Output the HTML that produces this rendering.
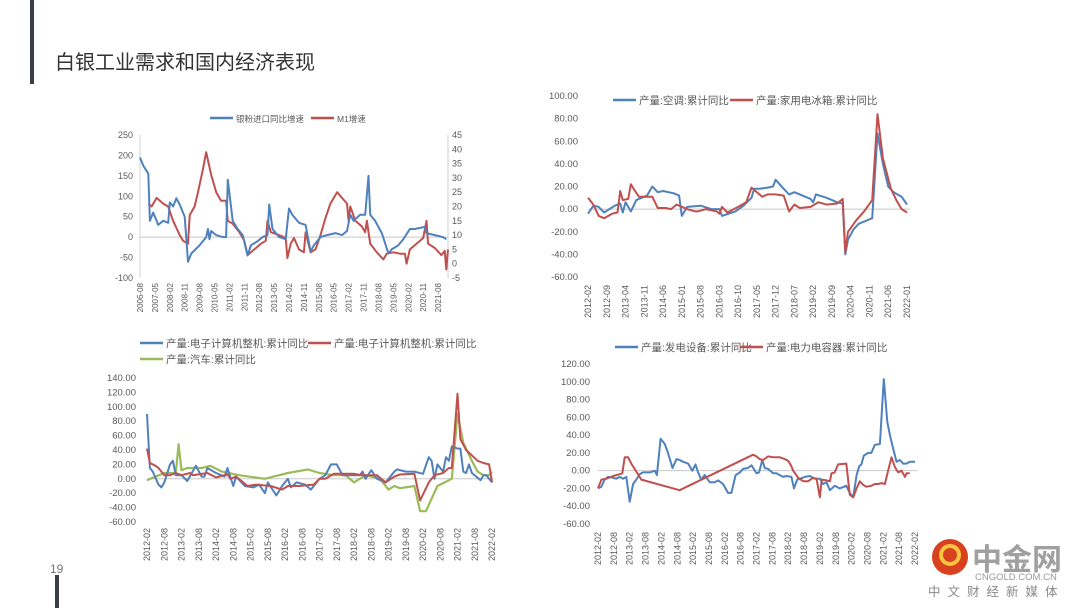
<!DOCTYPE html>
<html><head><meta charset="utf-8"><style>
html,body{margin:0;padding:0;background:#fff;}
svg{display:block;font-family:"Liberation Sans","Noto Sans CJK SC",sans-serif;}
</style></head><body>
<svg id="s" width="1080" height="608" viewBox="0 0 1080 608">
<rect x="0" y="0" width="1080" height="608" fill="#fff"/>
<rect x="30" y="0" width="4" height="84" fill="#3a3f4b"/>
<rect x="55" y="575" width="4" height="33" fill="#3a3f4b"/>
<text x="55" y="69" font-size="20" fill="#333">白银工业需求和国内经济表现</text>
<text x="50" y="573" font-size="12" fill="#777">19</text>
<g>
<circle cx="950" cy="557" r="18" fill="#d9411e"/>
<circle cx="950" cy="555" r="9" fill="none" stroke="#f5c542" stroke-width="4"/>
<text x="972" y="570" font-size="30" font-weight="bold" fill="#a0a0a0">中金网</text>
<text x="975" y="580" font-size="9.5" fill="#999">CNGOLD.COM.CN</text>
<text x="928" y="596" font-size="12.5" fill="#888" letter-spacing="7">中文财经新媒体</text>
</g>
<g id="c1"></g>
<g id="c2"></g>
<g id="c3"></g>
<g id="c4"></g>
</svg>
<script>
// ---------- Chart 1 data ----------
const c1Ticks = ['2006-08','2007-05','2008-02','2008-11','2009-08','2010-05','2011-02','2011-11','2012-08','2013-05','2014-02','2014-11','2015-08','2016-05','2017-02','2017-11','2018-08','2019-05','2020-02','2020-11','2021-08'];
const c1LeftTicks = [250,200,150,100,50,0,-50,-100];
const c1RightTicks = [45,40,35,30,25,20,15,10,5,0,-5];
const c1Silver = [['2006-08',195],['2006-10',175],['2007-01',155],['2007-02',40],['2007-04',60],['2007-06',40],['2007-07',30],['2007-10',40],['2008-01',35],['2008-02',85],['2008-04',75],['2008-06',95],['2008-08',80],['2008-11',50],['2009-01',-60],['2009-03',-40],['2009-08',-20],['2009-12',0],['2010-01',20],['2010-02',-5],['2010-03',15],['2010-06',5],['2010-10',0],['2010-12',0],['2011-01',140],['2011-04',40],['2011-07',20],['2011-10',5],['2012-01',-45],['2012-03',-20],['2012-07',-10],['2012-10',0],['2013-01',5],['2013-02',80],['2013-04',20],['2013-08',0],['2013-12',-5],['2014-02',70],['2014-04',55],['2014-08',35],['2014-12',30],['2015-03',-35],['2015-05',-20],['2015-09',0],['2016-01',5],['2016-06',10],['2016-10',5],['2017-01',15],['2017-03',55],['2017-05',40],['2017-09',55],['2017-12',55],['2018-02',150],['2018-03',55],['2018-06',40],['2018-10',10],['2019-02',-40],['2019-04',-30],['2019-08',-20],['2019-11',-5],['2020-03',20],['2020-06',20],['2020-12',25],['2021-01',10],['2021-06',5],['2021-11',0],['2022-01',-5]];
const c1M1 = [['2007-01',21],['2007-03',20],['2007-06',23],['2007-10',21],['2008-01',20],['2008-04',15],['2008-08',10],['2008-10',8],['2009-01',7],['2009-02',17],['2009-05',20],['2009-07',25],['2009-10',33],['2009-12',39],['2010-03',31],['2010-06',25],['2010-09',22],['2010-12',22],['2011-01',15],['2011-04',14],['2011-08',11],['2011-11',8],['2012-01',3],['2012-05',5],['2012-09',7],['2012-12',8],['2013-01',15],['2013-03',11],['2013-08',10],['2013-12',9],['2014-01',2],['2014-03',7],['2014-05',9],['2014-08',5],['2014-11',4],['2014-12',11],['2015-03',4],['2015-06',5],['2015-09',10],['2015-12',16],['2016-03',21],['2016-07',25],['2016-10',23],['2017-01',21],['2017-02',15],['2017-03',20],['2017-06',15],['2017-10',13],['2017-12',11],['2018-01',15],['2018-03',7],['2018-07',4],['2018-11',1.5],['2019-01',3.5],['2019-05',4],['2019-09',3.5],['2019-12',3.5],['2020-01',0],['2020-03',5],['2020-07',7],['2020-11',9],['2021-01',15],['2021-02',7],['2021-06',5.5],['2021-10',3],['2021-12',4.5],['2022-01',-2],['2022-02',5]];
// ---------- Chart 2 data ----------
const c2Ticks = ['2012-02','2012-09','2013-04','2013-11','2014-06','2015-01','2015-08','2016-03','2016-10','2017-05','2017-12','2018-07','2019-02','2019-09','2020-04','2020-11','2021-06','2022-01'];
const c2YTicks = [100,80,60,40,20,0,-20,-40,-60];
const c2AC = [['2012-02',-4],['2012-04',3],['2012-06',2],['2012-08',-3],['2012-12',3],['2013-02',5],['2013-03',-3],['2013-04',6],['2013-06',-2],['2013-08',8],['2013-10',10],['2013-12',12],['2014-02',20],['2014-04',15],['2014-06',16],['2014-10',14],['2014-12',12],['2015-01',-6],['2015-03',2],['2015-08',3],['2015-12',0],['2016-03',0],['2016-04',-6],['2016-09',-2],['2016-12',3],['2017-03',10],['2017-04',18],['2017-06',18],['2017-09',19],['2017-11',20],['2017-12',26],['2018-03',18],['2018-05',13],['2018-07',15],['2018-10',12],['2019-01',9],['2019-02',6],['2019-03',13],['2019-07',10],['2019-11',6],['2020-01',5],['2020-02',-40],['2020-03',-27],['2020-05',-18],['2020-07',-13],['2020-10',-10],['2020-12',-8],['2021-02',67],['2021-04',40],['2021-06',20],['2021-08',15],['2021-11',11],['2022-01',4]];
const c2Fridge = [['2012-02',10],['2012-04',4],['2012-06',-6],['2012-08',-8],['2012-11',-4],['2013-01',-3],['2013-02',16],['2013-03',8],['2013-05',9],['2013-06',22],['2013-07',18],['2013-09',11],['2013-12',11],['2014-02',11],['2014-04',1],['2014-07',1],['2014-09',0],['2014-11',4],['2015-03',0],['2015-06',-2],['2015-07',-2],['2015-10',0],['2016-02',-2],['2016-03',-4],['2016-04',2],['2016-06',-3],['2016-10',2],['2017-01',6],['2017-03',19],['2017-07',11],['2017-09',13],['2017-12',13],['2018-03',12],['2018-05',-2],['2018-07',4],['2018-09',1],['2019-01',2],['2019-04',6],['2019-07',4],['2019-11',5],['2020-01',9],['2020-02',-38],['2020-03',-20],['2020-06',-10],['2020-09',-2],['2020-12',8],['2021-02',84],['2021-04',45],['2021-07',18],['2021-09',8],['2021-11',0],['2022-01',-3]];
// ---------- Chart 3 data (month offsets from 2012-02) ----------
const c3Ticks = ['2012-02','2012-08','2013-02','2013-08','2014-02','2014-08','2015-02','2015-08','2016-02','2016-08','2017-02','2017-08','2018-02','2018-08','2019-02','2019-08','2020-02','2020-08','2021-02','2021-08','2022-02'];
const c3YTicks = [140,120,100,80,60,40,20,0,-20,-40,-60];
const c3Computer = [[0,90],[1,15],[2,10],[4,-8],[5,-12],[6,-5],[8,20],[9,25],[10,5],[12,5],[14,-3],[17,18],[19,3],[20,3],[21,15],[24,8],[27,3],[28,15],[30,-10],[31,3],[34,-10],[37,-12],[39,-8],[41,-20],[42,-5],[45,-23],[47,-10],[49,0],[50,-12],[52,-5],[55,-8],[57,-15],[60,0],[62,5],[64,20],[66,20],[68,5],[72,5],[74,5],[75,10],[76,0],[78,12],[80,0],[83,-5],[86,10],[87,13],[90,10],[93,10],[96,7],[98,30],[99,25],[100,0],[101,20],[103,10],[104,30],[105,25],[106,45],[108,42],[109,42],[110,10],[111,8],[112,20],[113,8],[116,-2],[117,5],[118,5],[120,-5]];
const c3Computer2 = [[0,42],[1,22],[3,18],[4,15],[6,5],[8,5],[10,8],[12,5],[15,8],[16,5],[21,8],[24,2],[26,4],[28,6],[29,0],[31,3],[35,-10],[38,-8],[43,-10],[47,-15],[49,-10],[53,-10],[58,-8],[60,0],[62,0],[65,7],[72,7],[75,5],[80,5],[83,-5],[86,3],[88,6],[93,7],[95,-30],[98,-5],[100,5],[103,8],[105,15],[106,15],[108,118],[109,55],[111,40],[115,25],[117,22],[119,20],[120,-5]];
const c3Auto = [[0,-2],[6,8],[10,8],[11,48],[12,12],[14,15],[19,15],[22,18],[26,10],[32,5],[41,0],[44,3],[49,8],[56,13],[60,8],[65,5],[69,5],[72,-5],[76,5],[81,0],[84,-15],[86,-10],[88,-13],[93,-10],[95,-45],[97,-45],[101,-10],[106,0],[108,90],[110,50],[113,25],[115,10],[117,5],[119,5],[120,10]];
// ---------- Chart 4 data (month offsets from 2012-02) ----------
const c4Ticks = c3Ticks;
const c4YTicks = [120,100,80,60,40,20,0,-20,-40,-60];
const c4Gen = [[0,-20],[1.3,-18],[2.5,-10],[3.8,-7],[5.7,-8],[6.9,-9],[8.2,-7],[9.5,-9],[10.7,-7],[12,-35],[13.3,-15],[14.5,-10],[15.8,-4],[17,-2],[19.6,-2],[21.5,0],[22.3,-5],[23.7,36],[25.3,30],[26.5,20],[28.2,3],[29.7,13],[30.9,12],[32.2,10],[34.1,8],[35.7,0],[36.9,7],[37.9,-2],[39.1,-10],[40.4,-5],[42.3,-13],[44.2,-13],[45.5,-11],[47.3,-15],[49.2,-25],[50.5,-25],[52.1,-5],[53.7,-2],[54.9,2],[56.8,3],[58.1,6],[60,-3],[61,-2],[62.2,12],[63.1,3],[64.4,2],[66.3,-3],[67.5,-3],[68.8,-5],[70.1,-7],[71.3,-6],[73.2,-7],[74.2,-20],[75.4,-10],[76.6,-9],[78.3,-7],[80.2,-6],[82.1,-9],[84,-9],[85.2,-15],[86.5,-13],[87.8,-22],[89.6,-17],[91.5,-20],[94,-17],[95.3,-25],[96.6,-30],[97.9,-5],[98.9,5],[99.7,7],[100.6,17],[102.3,20],[103.5,20],[104.8,29],[106.7,30],[108.2,103],[109.5,55],[110.5,40],[111.7,25],[113,10],[114.3,12],[115.5,8],[116.8,8],[118,10],[120,10]];
const c4Cap = [[0,-20],[1.3,-10],[3.2,-9],[5.7,-6],[8.2,-4],[9.2,-3],[10.1,15],[11.4,15],[12.6,8],[16.4,-10],[30.9,-22],[58.7,18],[60,16],[61.2,13],[62.5,12],[64.4,16],[66.3,15],[68.8,15],[70.7,13],[72,11],[73.2,5],[73.9,0],[75.8,-8],[77.7,-12],[79.5,-12],[81.4,-8],[82.7,-9],[84,-30],[84.7,-10],[86.5,-11],[87.8,-12],[88.4,-3],[89.6,-2],[90.9,7],[94,8],[95.3,-27],[96.6,-30],[97.9,-20],[99.1,-12],[100.4,-16],[101.6,-18],[103.5,-17],[104.8,-15],[106.1,-15],[107.3,-14],[108.6,-15],[109.8,0],[111.1,15],[112.4,4],[113.6,-2],[114.9,0],[116.2,-7],[116.8,-3],[118,-3]];

const NS='http://www.w3.org/2000/svg';
const BLUE='#4f81bd', RED='#c0504d', GREEN='#9bbb59';
function lin(d0,d1,r0,r1){return v=>r0+(v-d0)*(r1-r0)/(d1-d0);}
function mo(d,start){const a=d.split('-'),b=start.split('-');return (a[0]-b[0])*12+(a[1]-b[1]);}
function el(parent,tag,attrs,text){const e=document.createElementNS(NS,tag);for(const k in attrs)e.setAttribute(k,attrs[k]);if(text!==undefined)e.textContent=text;parent.appendChild(e);return e;}
function series(g,data,xf,yf,color,w,name){
  const pts=data.map(p=>xf(p[0]).toFixed(1)+','+yf(p[1]).toFixed(1)).join(' ');
  const e=el(g,'polyline',{points:pts,fill:'none',stroke:color,'stroke-width':w,'stroke-linejoin':'round'});
  
  
}
function yLabels(g,ticks,yf,x,anchor,fmt,fs,name){
  ticks.forEach(t=>{const e=el(g,'text',{x:x,y:yf(t)+3,'font-size':fs,fill:'#595959','text-anchor':anchor},fmt(t));
    
    });
}
function xLabels(g,ticks,xf,top,fs,name){
  ticks.forEach(t=>{const x=xf(t)+3;const e=el(g,'text',{x:0,y:0,'font-size':fs,fill:'#595959','text-anchor':'end',transform:'translate('+x+','+top+') rotate(-90)'},t);
    
    });
}
function legend(g,x,y,color,label,fs,name){
  const l=el(g,'line',{x1:x,y1:y,x2:x+23,y2:y,stroke:color,'stroke-width':2.5});
  
  
  const t=el(g,'text',{x:x+26,y:y+4,'font-size':fs,fill:'#595959'},label);
  
  
}
function hline(g,x1,x2,y,name){const e=el(g,'line',{x1:x1,x2:x2,y1:y,y2:y,stroke:'#c8c8c8','stroke-width':1});
  
  }
function vline(g,x,y1,y2,name){const e=el(g,'line',{x1:x,x2:x,y1:y1,y2:y2,stroke:'#d0d0d0','stroke-width':1});
  
  }
const f2=v=>v.toFixed(2), f0=v=>String(v);

// Chart 1
(function(){const g=document.getElementById('c1');const S='2006-08';
const xm=lin(0,186,140,448), x=d=>xm(mo(d,S)), yL=lin(-100,250,278,135), yR=lin(-5,45,278,135);
vline(g,140,135,278,'left-axis-line');vline(g,448,135,278,'right-axis-line');hline(g,140,448,yL(0),'zero-line');
yLabels(g,c1LeftTicks,yL,133,'end',f0,9,'left-y-tick');
yLabels(g,c1RightTicks,yR,452,'start',f0,9,'right-y-tick');
xLabels(g,c1Ticks,x,283,8,'x-tick');
series(g,c1M1,x,yR,RED,2,'m1-growth-line');
series(g,c1Silver,x,yL,BLUE,2,'silver-import-line');
legend(g,210,118,BLUE,'银粉进口同比增速',8.5,'legend-silver-import');
legend(g,311,118,RED,'M1增速',8.5,'legend-m1');})();

// Chart 2
(function(){const g=document.getElementById('c2');const S='2012-02';
const xm=lin(0,119,588,907), x=d=>xm(mo(d,S)), y=lin(-60,100,277,96);
hline(g,588,910,y(0),'zero-line');
yLabels(g,c2YTicks,y,578,'end',f2,9.5,'y-tick');
xLabels(g,c2Ticks,x,285,9,'x-tick');
series(g,c2AC,x,y,BLUE,2,'air-conditioner-line');
series(g,c2Fridge,x,y,RED,2,'fridge-line');
legend(g,613,100,BLUE,'产量:空调:累计同比',10.5,'legend-air-conditioner');
legend(g,730,100,RED,'产量:家用电冰箱:累计同比',10.5,'legend-fridge');})();

// Chart 3
(function(){const g=document.getElementById('c3');
const x=lin(0,120,147,492), y=lin(-60,140,522,378), xt=lin(0,20,147,492);
hline(g,147,494,y(0),'zero-line');
yLabels(g,c3YTicks,y,136,'end',f2,9.5,'y-tick');
c3Ticks.forEach((t,i)=>{const e=el(g,'text',{x:0,y:0,'font-size':9,fill:'#595959','text-anchor':'end',transform:'translate('+(xt(i)+3)+',528) rotate(-90)'},t);
  
  });
series(g,c3Auto,x,y,GREEN,2.2,'auto-line');
series(g,c3Computer,x,y,BLUE,2,'computer-line');
series(g,c3Computer2,x,y,RED,2,'computer-line-2');
legend(g,140,343,BLUE,'产量:电子计算机整机:累计同比',10.5,'legend-computer');
legend(g,308,343,RED,'产量:电子计算机整机:累计同比',10.5,'legend-computer-2');
legend(g,140,359,GREEN,'产量:汽车:累计同比',10.5,'legend-auto');})();

// Chart 4
(function(){const g=document.getElementById('c4');
const x=lin(0,120,598,915), y=lin(-60,120,524,364), xt=lin(0,20,598,915);
hline(g,598,918,y(0),'zero-line');
yLabels(g,c4YTicks,y,590,'end',f2,9.5,'y-tick');
c4Ticks.forEach((t,i)=>{const e=el(g,'text',{x:0,y:0,'font-size':9,fill:'#595959','text-anchor':'end',transform:'translate('+(xt(i)+3)+',532) rotate(-90)'},t);
  
  });
series(g,c4Gen,x,y,BLUE,2,'generator-line');
series(g,c4Cap,x,y,RED,2,'capacitor-line');
legend(g,615,347,BLUE,'产量:发电设备:累计同比',10.5,'legend-generator');
legend(g,740,347,RED,'产量:电力电容器:累计同比',10.5,'legend-capacitor');})();
</script>
</body></html>
